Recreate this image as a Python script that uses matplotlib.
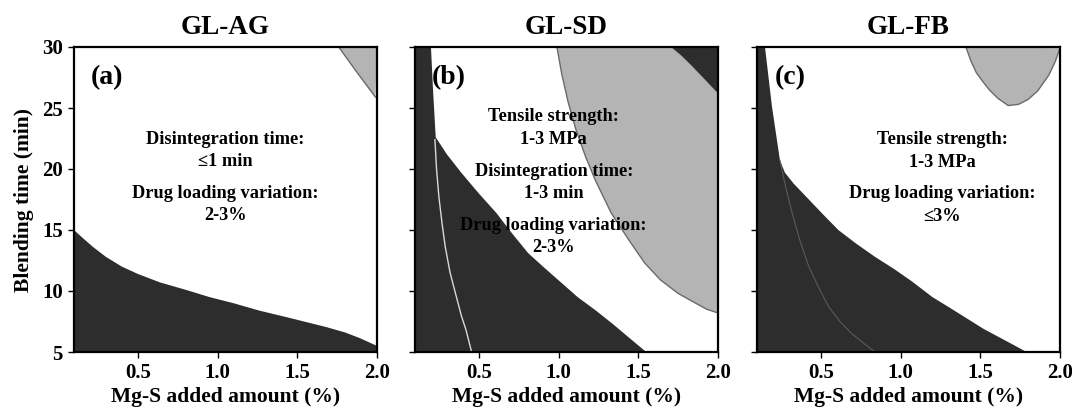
import matplotlib

matplotlib.use("Agg")
import matplotlib.pyplot as plt

plt.rcParams["font.family"] = ["Liberation Serif", "DejaVu Serif"]
plt.rcParams["font.weight"] = "bold"

DARK = "#2d2d2d"
GRAY = "#b4b4b4"
EDGE = "#6a6a6a"

# ---------------------------------------------------------------------------
# Region boundaries (x: Mg-S %, y: blending time min)
# ---------------------------------------------------------------------------

# GL-AG
ag_dark_x = [0.1, 0.15, 0.22, 0.3, 0.4, 0.5, 0.64, 0.8, 0.95, 1.1, 1.26, 1.45, 1.68, 1.8, 1.89, 2.0]
ag_dark_y = [15.0, 14.4, 13.6, 12.8, 12.0, 11.4, 10.7, 10.1, 9.5, 9.0, 8.4, 7.8, 7.05, 6.6, 6.15, 5.5]
ag_gray_x = [1.76, 1.87, 1.99]
ag_gray_y = [30.0, 28.0, 25.9]

# GL-SD
sd_dark_x = [0.2, 0.213, 0.23, 0.3, 0.39, 0.5, 0.61, 0.71, 0.81, 0.92, 1.02, 1.12,
             1.23, 1.34, 1.44, 1.55]
sd_dark_y = [30.0, 26.5, 22.6, 21.2, 19.7, 18.0, 16.4, 14.7, 13.1, 11.8, 10.65, 9.5,
             8.44, 7.3, 6.2, 5.0]
sd_line_x = [0.225, 0.235, 0.25, 0.27, 0.29, 0.32, 0.36, 0.39, 0.42, 0.455]
sd_line_y = [22.4, 20.0, 17.7, 15.5, 13.6, 11.5, 9.5, 8.0, 6.8, 5.0]
sd_gray_x = [0.99, 1.02, 1.06, 1.11, 1.17, 1.23, 1.33, 1.44, 1.54, 1.64, 1.75, 1.86,
             1.93, 2.0]
sd_gray_y = [30.0, 27.8, 25.5, 23.2, 21.0, 19.1, 16.4, 14.2, 12.3, 10.9, 9.8, 9.0,
             8.5, 8.2]
sd_corner_x = [1.706, 1.77, 1.84, 1.92, 2.0]
sd_corner_y = [30.0, 29.3, 28.4, 27.3, 26.2]

# GL-FB
fb_dark_x = [0.15, 0.194, 0.244, 0.275, 0.33, 0.425, 0.52, 0.61, 0.72, 0.84, 0.96,
             1.07, 1.2, 1.3, 1.41, 1.52, 1.62, 1.72, 1.79]
fb_dark_y = [30.0, 25.1, 20.7, 19.7, 18.8, 17.5, 16.2, 15.0, 13.9, 12.8, 11.8,
             10.8, 9.5, 8.7, 7.8, 6.9, 6.2, 5.5, 5.0]
fb_line_x = [0.244, 0.28, 0.32, 0.37, 0.425, 0.49, 0.55, 0.62, 0.69, 0.77, 0.84]
fb_line_y = [20.7, 18.5, 16.4, 14.1, 12.0, 10.2, 8.7, 7.5, 6.56, 5.7, 5.0]
fb_gray_x = [1.41, 1.44, 1.475, 1.52, 1.556, 1.61, 1.675, 1.74, 1.8, 1.86, 1.93,
             1.97, 2.0]
fb_gray_y = [30.0, 28.9, 27.9, 27.1, 26.5, 25.8, 25.2, 25.3, 25.7, 26.4, 27.7,
             28.8, 29.9]

titles = ["GL-AG", "GL-SD", "GL-FB"]
tags = ["(a)", "(b)", "(c)"]
x_ticks = [0.5, 1.0, 1.5, 2.0]
y_ticks = [5, 10, 15, 20, 25, 30]

ag_notes = ["Disintegration time:", "\u22641 min", "Drug loading variation:", "2-3%"]
ag_note_y = [22.4, 20.6, 18.0, 16.2]
sd_notes = ["Tensile strength:", "1-3 MPa", "Disintegration time:", "1-3 min",
            "Drug loading variation:", "2-3%"]
sd_note_y = [24.3, 22.4, 19.8, 18.0, 15.4, 13.6]
fb_notes = ["Tensile strength:", "1-3 MPa", "Drug loading variation:", "\u22643%"]
fb_note_y = [22.4, 20.5, 18.0, 16.1]


def style_axes(ax, title, tag, show_ylabels):
    ax.set_xlim(0.1, 2.0)
    ax.set_ylim(5, 30)
    ax.set_xticks(x_ticks)
    ax.set_xticklabels([f"{t:.1f}" for t in x_ticks])
    ax.set_yticks(y_ticks)
    if not show_ylabels:
        ax.set_yticklabels([])
    ax.tick_params(direction="out", length=4, width=1.0, labelsize=15, pad=4)
    for s in ax.spines.values():
        s.set_linewidth(1.6)
    ax.set_title(title, fontsize=19.5, fontweight="bold", pad=9)
    ax.set_xlabel("Mg-S added amount (%)", fontsize=15.5, fontweight="bold", labelpad=3)
    ax.text(0.11, 0.9, tag, transform=ax.transAxes, fontsize=20, fontweight="bold",
            ha="center", va="center")


def notes(ax, x, lines, ys):
    for s, y in zip(lines, ys):
        ax.text(x, y, s, fontsize=13.2, fontweight="bold", ha="center", va="center")


fig = plt.figure(figsize=(10.72, 4.13), dpi=100)
lefts = [74 / 1072, 415 / 1072, 757 / 1072]
axes = [fig.add_axes([l, 61 / 413, 303 / 1072, 305 / 413]) for l in lefts]

# (a) GL-AG
ax = axes[0]
ax.fill(ag_dark_x + [2.0, 0.1], ag_dark_y + [5.0, 5.0], color=DARK, lw=0)
ax.fill(ag_gray_x + [2.0], ag_gray_y + [30.0], color=GRAY, lw=0)
ax.plot(ag_gray_x, ag_gray_y, color=EDGE, lw=1)
notes(ax, 1.05, ag_notes, ag_note_y)
style_axes(ax, titles[0], tags[0], True)
ax.set_ylabel("Blending time (min)", fontsize=15.5, fontweight="bold", labelpad=6)

# (b) GL-SD
ax = axes[1]
ax.fill(sd_gray_x + [2.0], sd_gray_y + [30.0], color=GRAY, lw=0)
ax.plot(sd_gray_x, sd_gray_y, color=EDGE, lw=1)
ax.fill(sd_corner_x + [2.0], sd_corner_y + [30.0], color=DARK, lw=0)
ax.fill([0.1] + sd_dark_x + [0.1], [30.0] + sd_dark_y + [5.0], color=DARK, lw=0)
ax.plot(sd_line_x, sd_line_y, color="#d9d9d9", lw=1)
notes(ax, 0.97, sd_notes, sd_note_y)
style_axes(ax, titles[1], tags[1], False)

# (c) GL-FB
ax = axes[2]
ax.fill(fb_gray_x, fb_gray_y, color=GRAY, lw=0)
ax.plot(fb_gray_x, fb_gray_y, color=EDGE, lw=1)
ax.fill([0.1] + fb_dark_x + [0.1], [30.0] + fb_dark_y + [5.0], color=DARK, lw=0)
ax.plot(fb_line_x, fb_line_y, color="#5a5a5a", lw=0.8)
notes(ax, 1.26, fb_notes, fb_note_y)
style_axes(ax, titles[2], tags[2], False)

fig.savefig("out.png", dpi=100)
